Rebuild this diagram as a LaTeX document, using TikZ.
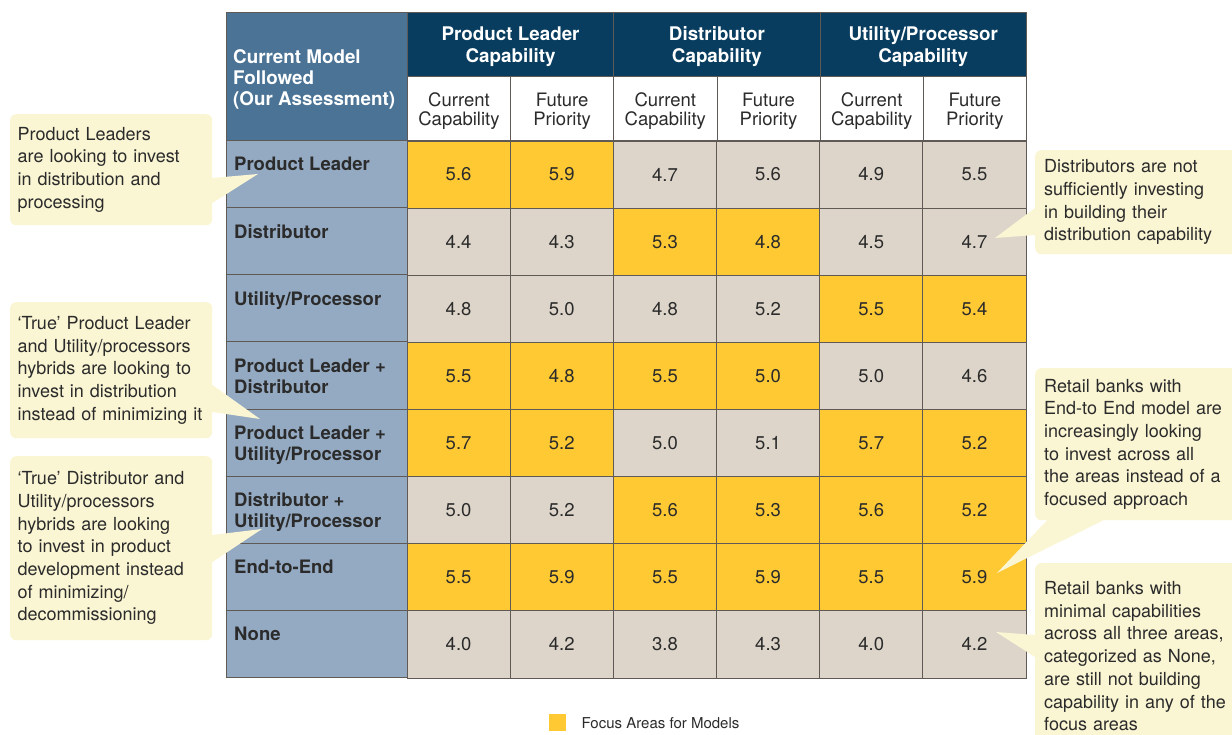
\documentclass[tikz,border=0pt]{standalone}
\usepackage{fontspec}
\setmainfont{TeX Gyre Heros}
\usepackage{tikz}
\usetikzlibrary{positioning}

\definecolor{headdark}{HTML}{083D5F}
\definecolor{headmid}{HTML}{4A7395}
\definecolor{rowblue}{HTML}{94AAC2}
\definecolor{plain}{HTML}{DDD5CA}
\definecolor{focus}{HTML}{FEC933}
\definecolor{note}{HTML}{FAF5D3}
\definecolor{grid}{HTML}{5F5A55}
\definecolor{ink}{HTML}{2B2B2B}

\tikzset{
  box/.style={draw=grid, line width=0.8pt, inner sep=0pt, anchor=north west},
  cell/.style={draw=grid, line width=0.8pt, inner sep=0pt, minimum width=103.17pt,
    minimum height=67.125pt, text=ink, font=\fontsize{18.5}{22}\selectfont},
  headtext/.style={text=white, align=center, font=\bfseries\fontsize{18.8}{22}\selectfont},
  subtext/.style={text=ink, align=center, font=\fontsize{18.5}{19}\selectfont},
  rowtext/.style={text=ink, align=left, inner sep=0pt, anchor=north west,
    font=\bfseries\fontsize{18.5}{21}\selectfont},
  callout/.style={fill=note, rounded corners=6pt, align=left, text=ink, anchor=north west,
    inner xsep=7.5pt, inner ysep=0pt, text width=187pt, font=\fontsize{18}{22.7}\selectfont},
  rightnote/.style={callout, inner xsep=9pt, text width=200pt},
}

\begin{document}
\begin{tikzpicture}[x=1pt, y=-1pt]

\useasboundingbox (0,0) rectangle (1232,735);

\node [box, fill=headmid, minimum width=181pt, minimum height=128pt] (head) at (226,12) {};
\node [rowtext, text=white, font=\bfseries\fontsize{18.8}{21}\selectfont] (headlab) at (233,49)
  {Current Model\\Followed\\(Our Assessment)};

\foreach \g/\t in {1/{Product Leader}, 2/{Distributor}, 3/{Utility/Processor}}
  \node [box, fill=headdark, minimum width=206.33pt, minimum height=64pt,
    label={[headtext, yshift=-2pt]center:\t\\Capability}]
    (grp\g) at ({407+206.33*(\g-1)},12) {};

\foreach \c in {1,3,5}
  \node [box, fill=white, minimum width=103.17pt, minimum height=64pt,
    label={[subtext, yshift=-3pt]center:Current\\Capability}]
    (sub\c) at ({407+103.17*(\c-1)},76) {};
\foreach \c in {2,4,6}
  \node [box, fill=white, minimum width=103.17pt, minimum height=64pt,
    label={[subtext, yshift=-3pt]center:Future\\Priority}]
    (sub\c) at ({407+103.17*(\c-1)},76) {};

\foreach \t [count=\r] in {Product Leader, Distributor, Utility/Processor,
    Product Leader +\\Distributor, Product Leader +\\Utility/Processor,
    Distributor +\\Utility/Processor, End-to-End, None} {
  \node [box, fill=rowblue, minimum width=181pt, minimum height=67.125pt]
    (row\r) at (226,{140+67.125*(\r-1)}) {};
  \node [rowtext] (lab\r) at (234,{157+67.125*(\r-1)}) {\t};
}

\foreach \vals [count=\r] in {
    {5.6/focus,5.9/focus,4.7/plain,5.6/plain,4.9/plain,5.5/plain},
    {4.4/plain,4.3/plain,5.3/focus,4.8/focus,4.5/plain,4.7/plain},
    {4.8/plain,5.0/plain,4.8/plain,5.2/plain,5.5/focus,5.4/focus},
    {5.5/focus,4.8/focus,5.5/focus,5.0/focus,5.0/plain,4.6/plain},
    {5.7/focus,5.2/focus,5.0/plain,5.1/plain,5.7/focus,5.2/focus},
    {5.0/plain,5.2/plain,5.6/focus,5.3/focus,5.6/focus,5.2/focus},
    {5.5/focus,5.9/focus,5.5/focus,5.9/focus,5.5/focus,5.9/focus},
    {4.0/plain,4.2/plain,3.8/plain,4.3/plain,4.0/plain,4.2/plain}}
  \foreach \v/\f [count=\c] in \vals
    \node [cell, fill=\f] (v\r\c) at ({407+103.17*(\c-0.5)},{141+67.125*(\r-0.5)}) {\v};

\coordinate (tip1) at (258,174);
\coordinate (tip2) at (260,419);
\coordinate (tip3) at (262,529);
\coordinate (tip4) at (995,238);
\coordinate (tip5) at (997,573);
\coordinate (tip6) at (996,632);

\node [callout, minimum height=111pt] (note1) at (10,114)
  {Product Leaders\\are looking to invest\\in distribution and\\processing};
\node [callout, minimum height=136pt] (note2) at (10,302)
  {`True' Product Leader\\and Utility/processors\\hybrids are looking to\\invest in distribution\\instead of minimizing it};
\node [callout, minimum height=184pt] (note3) at (10,456)
  {`True' Distributor and\\Utility/processors\\hybrids are looking\\to invest in product\\development instead\\of minimizing/\\decommissioning};
\node [rightnote, minimum height=104pt] (note4) at (1035,150)
  {Distributors are not\\sufficiently investing\\in building their\\distribution capability};
\node [rightnote, minimum height=152pt] (note5) at (1035,368)
  {Retail banks with\\End-to End model are\\increasingly looking\\to invest across all\\the areas instead of a\\focused approach};
\node [rightnote, minimum height=186pt] (note6) at (1035,563)
  {Retail banks with\\minimal capabilities\\across all three areas,\\categorized as None,\\are still not building\\capability in any of the\\focus areas};

\fill [note] (note1.east |- 0,178) -- (tip1) -- (note1.east |- 0,203) -- ++(-4,0) -- ++(0,-25) -- cycle;
\fill [note] (note2.east |- 0,385) -- (tip2) -- (note2.east |- 0,412) -- ++(-4,0) -- ++(0,-27) -- cycle;
\fill [note] (note3.east |- 0,535) -- (tip3) -- (note3.east |- 0,562) -- ++(-4,0) -- ++(0,-27) -- cycle;
\fill [note] (note4.west |- 0,208) -- (tip4) -- (note4.west |- 0,235) -- ++(4,0) -- ++(0,-27) -- cycle;
\fill [note] (1047,0 |- note5.south) -- (tip5) -- (1103,0 |- note5.south) -- ++(0,-4) -- ++(-56,0) -- cycle;
\fill [note] (note6.west |- 0,635) -- (tip6) -- (note6.west |- 0,657) -- ++(4,0) -- ++(0,-22) -- cycle;

\node [fill=focus, minimum size=17pt, inner sep=0pt, anchor=north west] (key) at (549,714) {};
\node [right=15pt of key, inner sep=0pt, text=ink, font=\fontsize{15}{17}\selectfont] (keytext)
  {Focus Areas for Models};

\end{tikzpicture}
\end{document}
